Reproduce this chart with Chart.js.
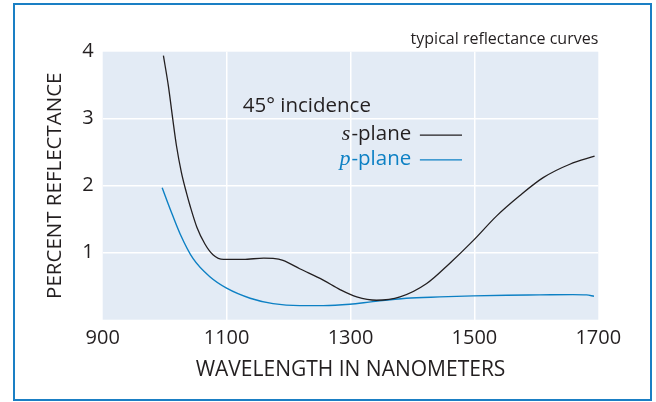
<!DOCTYPE html>
<html lang="en">
<head>
    <meta charset="UTF-8">
    <title>Typical reflectance curves</title>
    <script src="https://cdn.jsdelivr.net/npm/chart.js"></script>
    <style>
        * {
            margin: 0;
            padding: 0;
        }
        body {
            background: #ffffff;
        }
        #chartContainer {
            position: absolute;
            left: 0;
            top: 0;
            width: 656px;
            height: 402px;
        }
        #frame {
            position: absolute;
            left: 13px;
            top: 3px;
            width: 635px;
            height: 394px;
            border: 2px solid #1a7fc4;
            pointer-events: none;
        }
    </style>
</head>
<body>
    <div id="chartContainer">
        <canvas id="reflChart"></canvas>
    </div>
    <div id="frame"></div>

    <script>
        // s-plane curve (wavelength nm, percent reflectance)
        const sWave = [998, 1006, 1013, 1019, 1027, 1035, 1041, 1052, 1065, 1078, 1095, 1127, 1160, 1175, 1191,
                       1218, 1256, 1283, 1310, 1342, 1380, 1423, 1460, 1498, 1536, 1573, 1611, 1654, 1694];
        const sVal  = [3.94, 3.49, 3.0, 2.6, 2.2, 1.9, 1.7, 1.38, 1.13, 0.97, 0.90, 0.90, 0.92, 0.915, 0.885,
                       0.76, 0.59, 0.45, 0.34, 0.29, 0.34, 0.54, 0.84, 1.18, 1.55, 1.85, 2.12, 2.32, 2.44];

        // p-plane curve
        const pWave = [996, 1009, 1025, 1046, 1073, 1100, 1138, 1175, 1218, 1256, 1299, 1336, 1390, 1444,
                       1498, 1552, 1605, 1659, 1681, 1693];
        const pVal  = [1.97, 1.65, 1.28, 0.91, 0.64, 0.47, 0.32, 0.24, 0.21, 0.21, 0.23, 0.27, 0.32, 0.34,
                       0.355, 0.365, 0.37, 0.375, 0.37, 0.35];

        const xTicks = [900, 1100, 1300, 1500, 1700];
        const yTicks = [0, 1, 2, 3, 4];

        const ink = '#231f20';
        const blue = '#0d80c4';
        const sans = '"Open Sans", "Noto Sans", sans-serif';

        const toPoints = (xs, ys) => xs.map((x, i) => ({ x: x, y: ys[i] }));

        // light blue plot background
        const plotBg = {
            id: 'plotBg',
            beforeDraw(chart) {
                const { ctx, chartArea: a } = chart;
                ctx.save();
                ctx.fillStyle = '#e3ebf5';
                ctx.fillRect(a.left, a.top, a.right - a.left, a.bottom - a.top);
                ctx.restore();
            }
        };

        // in-chart captions and key
        const captions = {
            id: 'captions',
            afterDraw(chart) {
                const { ctx, chartArea: a } = chart;
                const xs = chart.scales.x, ys = chart.scales.y;
                ctx.save();
                ctx.textBaseline = 'middle';

                ctx.font = '16px ' + sans;
                ctx.fillStyle = ink;
                ctx.textAlign = 'right';
                ctx.fillText('typical reflectance curves', a.right, a.top - 12);

                ctx.font = '20.5px ' + sans;
                ctx.textAlign = 'left';
                ctx.fillText('45° incidence', xs.getPixelForValue(1126), ys.getPixelForValue(3.19));

                const keys = [
                    { pre: 's', text: '-plane', color: ink, y: 2.77 },
                    { pre: 'p', text: '-plane', color: blue, y: 2.40 }
                ];
                const right = xs.getPixelForValue(1398);
                const l0 = xs.getPixelForValue(1412), l1 = xs.getPixelForValue(1480);
                keys.forEach(k => {
                    const yy = ys.getPixelForValue(k.y);
                    ctx.fillStyle = k.color;
                    ctx.font = '20.5px ' + sans;
                    const w = ctx.measureText(k.text).width;
                    ctx.textAlign = 'right';
                    ctx.fillText(k.text, right, yy);
                    ctx.font = 'italic 22px "Liberation Serif", serif';
                    ctx.fillText(k.pre, right - w - 1, yy);
                    ctx.strokeStyle = k.color;
                    ctx.lineWidth = 1.2;
                    ctx.beginPath();
                    ctx.moveTo(l0, yy + 1);
                    ctx.lineTo(l1, yy + 1);
                    ctx.stroke();
                });
                ctx.restore();
            }
        };

        const edgeGrid = (edges) => (c) => edges.includes(c.tick.value) ? 'rgba(0,0,0,0)' : '#ffffff';

        const ctx = document.getElementById('reflChart').getContext('2d');
        const reflChart = new Chart(ctx, {
            type: 'line',
            data: {
                datasets: [
                    {
                        label: 's-plane',
                        data: toPoints(sWave, sVal),
                        borderColor: ink,
                        borderWidth: 1.3,
                        pointRadius: 0,
                        cubicInterpolationMode: 'monotone',
                        fill: false
                    },
                    {
                        label: 'p-plane',
                        data: toPoints(pWave, pVal),
                        borderColor: blue,
                        borderWidth: 1.4,
                        pointRadius: 0,
                        cubicInterpolationMode: 'monotone',
                        fill: false
                    }
                ]
            },
            options: {
                responsive: true,
                maintainAspectRatio: false,
                animation: false,
                layout: {
                    padding: { left: 0, right: 57.7, top: 51.7, bottom: 0 }
                },
                scales: {
                    x: {
                        type: 'linear',
                        min: 900,
                        max: 1700,
                        afterBuildTicks: (s) => { s.ticks = xTicks.map(v => ({ value: v })); },
                        afterFit: (s) => { s.height = 82.3; },
                        border: { display: false },
                        grid: { color: edgeGrid([900, 1700]), lineWidth: 1.5, drawTicks: false },
                        ticks: {
                            padding: 7,
                            color: ink,
                            font: { family: sans, size: 20 },
                            callback: (v) => String(v)
                        },
                        title: {
                            display: true,
                            text: 'WAVELENGTH IN NANOMETERS',
                            color: ink,
                            font: { family: sans, size: 21 },
                            padding: { top: 0, bottom: 19 }
                        }
                    },
                    y: {
                        min: 0,
                        max: 4,
                        afterBuildTicks: (s) => { s.ticks = yTicks.map(v => ({ value: v })); },
                        afterFit: (s) => { s.width = 102.7; },
                        border: { display: false },
                        grid: { color: edgeGrid([0, 4]), lineWidth: 1.5, drawTicks: false },
                        ticks: {
                            padding: 9,
                            color: ink,
                            font: { family: sans, size: 20 },
                            callback: (v) => v === 0 ? '' : String(v)
                        },
                        title: {
                            display: true,
                            text: 'PERCENT REFLECTANCE',
                            color: ink,
                            font: { family: sans, size: 20.5 },
                            padding: { top: 43, bottom: 0 }
                        }
                    }
                },
                plugins: {
                    legend: { display: false },
                    tooltip: { enabled: false }
                }
            },
            plugins: [plotBg, captions]
        });
    </script>
</body>
</html>
